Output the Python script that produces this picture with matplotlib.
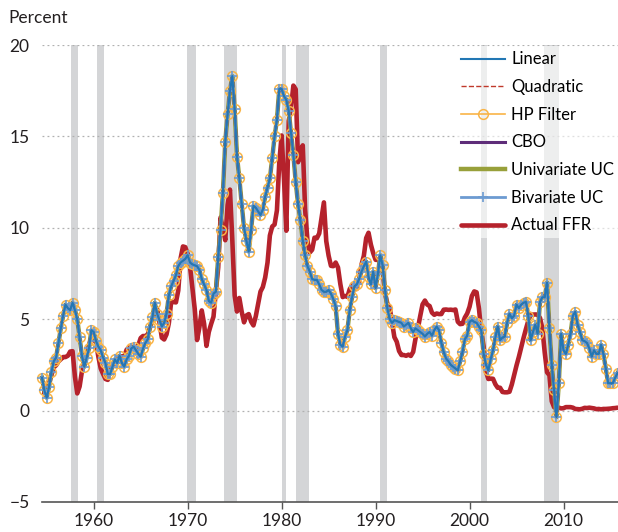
import matplotlib
matplotlib.use("Agg")
import matplotlib.pyplot as plt
import numpy as np

# quarterly data, 1954Q3 - 2015Q4
start_year = 1954.5

# policy-rule prescriptions (all six gap measures overlap in the chart)
rule_rate = [
    1.8, 1.1,
    0.7, 1.3, 2.1, 2.7,
    2.9, 3.7, 4.5, 5.2,
    5.8, 5.6, 5.5, 5.9,
    5.5, 5.0, 4.0, 3.0,
    2.4, 2.9, 3.4, 4.4,
    4.3, 3.8, 3.5, 3.3,
    2.9, 2.6, 2.0, 2.0,
    2.4, 2.8, 2.6, 3.0,
    2.6, 2.4, 2.8, 3.0,
    3.4, 3.5, 3.3, 3.1,
    2.95, 3.4, 3.7, 3.9,
    4.6, 5.1, 5.9, 5.3,
    4.95, 4.6, 4.8, 5.3,
    6.3, 6.8, 7.1, 7.4,
    7.9, 8.1, 8.2, 8.3,
    8.5, 8.1, 8.0, 7.95,
    7.9, 7.7, 7.2, 6.9,
    6.6, 6.0, 5.9, 6.4,
    6.5, 8.4, 9.9, 11.9,
    14.7, 16.2, 17.5, 18.3,
    16.5, 13.9, 12.7, 11.3,
    10.0, 9.3, 8.7, 9.9,
    11.2, 11.1, 10.9, 10.7,
    11.0, 11.7, 12.2, 12.7,
    13.8, 15.0, 15.9, 17.6,
    17.6, 17.2, 17.0, 16.4,
    15.2, 14.0, 12.5, 11.3,
    10.4, 9.3, 8.5, 7.9,
    7.6, 7.2, 7.15, 7.15,
    6.9, 6.6, 6.5, 6.5,
    6.6, 6.4, 6.1, 5.7,
    4.2, 3.6, 3.5, 4.05,
    4.4, 5.5, 6.2, 6.8,
    6.9, 7.2, 7.6, 7.9,
    8.15, 7.3, 6.9, 7.6,
    6.7, 7.5, 8.5, 7.95,
    6.6, 5.6, 5.0, 4.8,
    4.95, 4.9, 4.85, 4.8,
    4.6, 4.7, 4.8, 4.5,
    4.3, 4.5, 4.4, 4.3,
    4.2, 4.05, 4.2, 4.3,
    4.1, 4.4, 4.6, 4.4,
    3.7, 3.2, 2.85, 2.7,
    2.5, 2.4, 2.3, 2.2,
    2.7, 3.2, 3.9, 4.1,
    4.85, 4.95, 4.85, 4.8,
    4.6, 4.4, 3.1, 2.5,
    2.2, 2.8, 3.3, 4.0,
    4.6, 3.85, 4.0, 4.05,
    4.8, 5.3, 5.05, 5.2,
    5.8, 5.6, 5.8, 5.9,
    5.95, 5.2, 3.85, 4.3,
    4.7, 4.2, 5.95, 6.2,
    6.2, 7.0, 4.5, 2.5,
    1.1, -0.35, 1.5, 4.2,
    3.3, 3.1, 3.6, 4.2,
    5.2, 5.4, 4.7, 4.3,
    3.85, 3.8, 3.7, 3.4,
    2.95, 3.3, 3.1, 3.1,
    3.6, 3.1, 2.3, 1.5,
    1.5, 1.5, 1.8, 2.05,
]

actual_ffr = [
    1.03, 0.99,
    1.34, 1.50, 1.94, 2.36,
    2.48, 2.69, 2.81, 2.93,
    2.93, 3.00, 3.23, 3.25,
    1.86, 0.94, 1.32, 2.16,
    2.57, 3.08, 3.58, 3.99,
    3.93, 3.70, 2.94, 2.30,
    2.00, 1.73, 1.68, 2.40,
    2.46, 2.61, 2.85, 2.92,
    2.97, 2.96, 3.33, 3.45,
    3.46, 3.49, 3.46, 3.58,
    3.97, 4.08, 4.07, 4.17,
    4.56, 4.91, 5.41, 5.56,
    4.82, 3.99, 3.89, 4.17,
    4.79, 5.98, 5.94, 5.92,
    6.57, 8.33, 8.98, 8.94,
    8.57, 7.88, 6.70, 5.57,
    3.86, 4.56, 5.48, 4.75,
    3.54, 4.30, 4.74, 5.14,
    6.54, 7.82, 10.56, 10.00,
    9.32, 11.25, 12.09, 9.35,
    6.30, 5.42, 6.16, 5.41,
    4.83, 5.20, 5.28, 4.87,
    4.66, 5.16, 5.82, 6.51,
    6.76, 7.28, 8.10, 9.58,
    10.07, 10.18, 10.95, 13.58,
    15.05, 12.69, 9.84, 15.85,
    16.57, 17.78, 17.58, 13.59,
    14.23, 14.51, 11.01, 9.29,
    8.65, 8.80, 9.46, 9.43,
    9.69, 10.56, 11.39, 9.27,
    8.48, 7.92, 7.90, 8.10,
    7.83, 6.92, 6.21, 6.27,
    6.22, 6.65, 6.84, 6.92,
    6.66, 7.16, 7.98, 8.47,
    9.44, 9.73, 9.08, 8.61,
    8.25, 8.24, 8.16, 7.74,
    6.43, 5.86, 5.64, 4.82,
    4.02, 3.77, 3.26, 3.04,
    3.04, 3.00, 3.06, 2.99,
    3.21, 3.94, 4.49, 5.17,
    5.81, 6.02, 5.80, 5.72,
    5.36, 5.24, 5.31, 5.28,
    5.28, 5.52, 5.53, 5.51,
    5.52, 5.50, 5.53, 4.86,
    4.73, 4.75, 5.09, 5.31,
    5.68, 6.27, 6.52, 6.47,
    5.59, 4.33, 3.50, 2.13,
    1.73, 1.75, 1.74, 1.44,
    1.25, 1.25, 1.02, 1.00,
    1.00, 1.03, 1.43, 1.95,
    2.47, 2.94, 3.46, 3.98,
    4.46, 4.91, 5.25, 5.25,
    5.26, 5.25, 5.07, 4.50,
    3.18, 2.09, 1.94, 0.51,
    0.18, 0.18, 0.16, 0.12,
    0.13, 0.19, 0.19, 0.19,
    0.16, 0.09, 0.08, 0.07,
    0.10, 0.15, 0.14, 0.16,
    0.14, 0.12, 0.08, 0.09,
    0.07, 0.09, 0.09, 0.10,
    0.11, 0.13, 0.14, 0.16,
]

# NBER recessions (start, end) in fractional years
recessions = [(1957.6, 1958.3), (1960.3, 1961.1), (1969.9, 1970.9),
              (1973.9, 1975.2), (1980.0, 1980.5), (1981.5, 1982.9),
              (1990.5, 1991.2), (2001.2, 2001.9), (2007.9, 2009.5)]

x_ticks = [1960, 1970, 1980, 1990, 2000, 2010]
y_ticks = [-5, 0, 5, 10, 15, 20]

dates = start_year + np.arange(len(rule_rate)) * 0.25

plt.rcParams['font.family'] = ['Lato', 'DejaVu Sans']
fig = plt.figure(figsize=(6.18, 5.32), dpi=100)
ax = fig.add_axes([0.068, 0.0564, 0.932, 0.859])

for a, b in recessions:
    ax.axvspan(a, b, color='#d4d5d7', lw=0, zorder=0)

for yv in y_ticks[1:]:
    ax.axhline(yv, color='#b0b0b0', lw=0.9, ls=(0, (1.5, 2.5)), zorder=1)

ffr, = ax.plot(dates, actual_ffr, color='#b5222c', lw=3.3, zorder=2,
               label='Actual FFR', solid_capstyle='round')

uni, = ax.plot(dates, rule_rate, color='#98a03a', lw=3.2, zorder=3,
               label='Univariate UC', clip_on=False)
cbo, = ax.plot(dates, rule_rate, color='#5e2d79', lw=2.2, zorder=4,
               label='CBO', clip_on=False)
hp, = ax.plot(dates, rule_rate, color='#f9b447', lw=1.2, marker='o', ms=7,
              mfc='none', mec='#f9b447', mew=1.1, zorder=5, label='HP Filter',
              clip_on=False)
biv, = ax.plot(dates, rule_rate, color='#6c9bd1', lw=2.0, marker='+', ms=7,
               mew=1.2, zorder=6, label='Bivariate UC', clip_on=False)
quad, = ax.plot(dates, rule_rate, color='#c0392b', lw=1.0, ls='--',
                zorder=7, label='Quadratic', clip_on=False)
lin, = ax.plot(dates, rule_rate, color='#2277b4', lw=1.5, zorder=8,
               label='Linear', clip_on=False)

ax.set_xlim(1954.5, 2015.8)
ax.set_ylim(-5, 20)
ax.set_xticks(x_ticks)
ax.set_yticks(y_ticks)
ax.tick_params(axis='y', length=0, pad=9, labelsize=12.5, colors='#231f20')
ax.tick_params(axis='x', length=5, width=1, color='#555555', pad=3,
               labelsize=12.5, labelcolor='#231f20')
for s in ['top', 'right', 'left']:
    ax.spines[s].set_visible(False)
ax.spines['bottom'].set_color('#555555')
ax.spines['bottom'].set_linewidth(1.2)

leg = ax.legend(handles=[lin, quad, hp, cbo, uni, biv, ffr],
                loc='upper left', bbox_to_anchor=(0.705, 1.015),
                fontsize=12, frameon=True, facecolor='white',
                framealpha=0.6, edgecolor='none', handlelength=2.6,
                handletextpad=0.4, labelspacing=0.7, borderpad=0.3,
                numpoints=1)
leg.set_zorder(10)

fig.text(0.013, 0.966, 'Percent', fontsize=12.5, color='#231f20', va='center')

fig.savefig('out.png', dpi=100)
